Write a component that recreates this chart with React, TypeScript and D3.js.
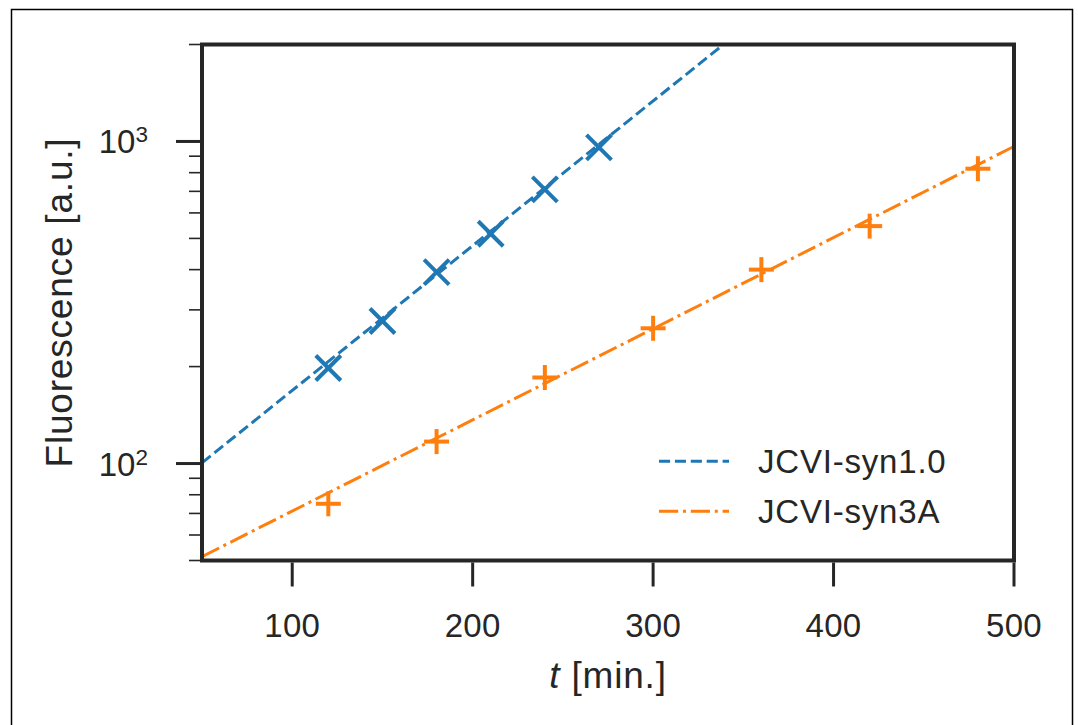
import React from "react";
import * as d3 from "d3";

// ---- data ----
const syn1Time = [120, 150, 180, 210, 240, 270];
const syn1Fluor = [198, 277, 393, 517, 710, 958];
const syn3Time = [120, 180, 240, 300, 360, 420, 480];
const syn3Fluor = [75, 117, 185, 263, 400, 546, 823];
// fitted exponential lines (end points)
const syn1FitTime = [50, 339];
const syn1FitFluor = [100.5, 2000];
const syn3FitTime = [50, 500];
const syn3FitFluor = [51.4, 965];

const xTicks = [100, 200, 300, 400, 500];
const yMajorTicks = [100, 1000];
const yMajorExp = ["2", "3"];
const yMinorTicks = [50, 60, 70, 80, 90, 200, 300, 400, 500, 600, 700, 800, 900, 2000];
const seriesNames = ["JCVI-syn1.0", "JCVI-syn3A"];

const W = 1078;
const H = 725;
const left = 202;
const right = 1014;
const top = 44.5;
const bottom = 560.5;
const INK = "#262626";
const BLUE = "#1f77b4";
const ORANGE = "#ff7f0e";
const FONT = "'Liberation Sans', Arial, Helvetica, sans-serif";

export default function App() {
  const x = d3.scaleLinear().domain([50, 500]).range([left, right]);
  const y = d3.scaleLog().domain([50, 2000]).range([bottom, top]);

  const line = d3
    .line<[number, number]>()
    .x((d) => x(d[0]))
    .y((d) => y(d[1]));

  const fit1 = syn1FitTime.map((t, i) => [t, syn1FitFluor[i]] as [number, number]);
  const fit3 = syn3FitTime.map((t, i) => [t, syn3FitFluor[i]] as [number, number]);

  const xr = 12.5; // half-size of x marker
  const pr = 12.5; // half-size of + marker

  return (
    <svg
      width={W}
      height={H}
      style={{ position: "absolute", left: 0, top: 0, background: "#fff" }}
      fontFamily={FONT}
    >
      <rect x={0} y={0} width={W} height={H} fill="#fff" />
      {/* outer frame */}
      <rect x={11.5} y={9.5} width={1061} height={730} fill="none" stroke="#000" strokeWidth={1.5} />

      <defs>
        <clipPath id="plotclip">
          <rect x={left} y={top} width={right - left} height={bottom - top} />
        </clipPath>
      </defs>

      {/* fit lines */}
      <g clipPath="url(#plotclip)" fill="none" strokeWidth={3}>
        <path d={line(fit1) || ""} stroke={BLUE} strokeDasharray="11.1 4.8" />
        <path d={line(fit3) || ""} stroke={ORANGE} strokeDasharray="19.2 4.8 3 4.8" />
      </g>

      {/* markers */}
      <g stroke={BLUE} strokeWidth={4} strokeLinecap="butt">
        {syn1Time.map((t, i) => {
          const cx = x(t);
          const cy = y(syn1Fluor[i]);
          return (
            <g key={"b" + i}>
              <line x1={cx - xr} y1={cy - xr} x2={cx + xr} y2={cy + xr} />
              <line x1={cx - xr} y1={cy + xr} x2={cx + xr} y2={cy - xr} />
            </g>
          );
        })}
      </g>
      <g stroke={ORANGE} strokeWidth={4} strokeLinecap="butt">
        {syn3Time.map((t, i) => {
          const cx = x(t);
          const cy = y(syn3Fluor[i]);
          return (
            <g key={"o" + i}>
              <line x1={cx - pr} y1={cy} x2={cx + pr} y2={cy} />
              <line x1={cx} y1={cy - pr} x2={cx} y2={cy + pr} />
            </g>
          );
        })}
      </g>

      {/* spines */}
      <rect
        x={left}
        y={top}
        width={right - left}
        height={bottom - top}
        fill="none"
        stroke={INK}
        strokeWidth={4}
      />

      {/* x ticks */}
      <g>
        {xTicks.map((t) => (
          <g key={"xt" + t}>
            <line x1={x(t)} x2={x(t)} y1={bottom + 2} y2={bottom + 26} stroke={INK} strokeWidth={3} />
            <text x={x(t)} y={636.5} textAnchor="middle" fontSize={33} letterSpacing={0.3} fill={INK}>
              {t}
            </text>
          </g>
        ))}
      </g>

      {/* y ticks */}
      <g>
        {yMinorTicks.map((v) => (
          <line
            key={"ym" + v}
            x1={left - 13}
            x2={left - 2}
            y1={y(v)}
            y2={y(v)}
            stroke={INK}
            strokeWidth={1.6}
          />
        ))}
        {yMajorTicks.map((v, i) => (
          <g key={"yM" + v}>
            <line x1={left - 26} x2={left - 2} y1={y(v)} y2={y(v)} stroke={INK} strokeWidth={3} />
            <text x={148} y={y(v) + 12} textAnchor="end" fontSize={33} fill={INK}>
              10
              <tspan fontSize={22.5} dy={-11}>
                {yMajorExp[i]}
              </tspan>
            </text>
          </g>
        ))}
      </g>

      {/* axis labels */}
      <text
        transform={`translate(72, ${(top + bottom) / 2}) rotate(-90)`}
        textAnchor="middle"
        fontSize={37}
        letterSpacing={0.8}
        fill={INK}
      >
        Fluorescence [a.u.]
      </text>
      <text
        x={(left + right) / 2}
        y={688}
        textAnchor="middle"
        fontSize={37}
        letterSpacing={0.8}
        fill={INK}
      >
        <tspan fontStyle="italic">t</tspan> [min.]
      </text>

      {/* legend */}
      <g>
        <line x1={659} x2={729} y1={461.3} y2={461.3} stroke={BLUE} strokeWidth={3} strokeDasharray="11.1 4.8" />
        <text x={758} y={473} fontSize={33} letterSpacing={0.8} fill={INK}>
          {seriesNames[0]}
        </text>
        <line
          x1={659}
          x2={729}
          y1={511.3}
          y2={511.3}
          stroke={ORANGE}
          strokeWidth={3}
          strokeDasharray="19.2 4.8 3 4.8"
        />
        <text x={758} y={523} fontSize={33} letterSpacing={0.8} fill={INK}>
          {seriesNames[1]}
        </text>
      </g>
    </svg>
  );
}
